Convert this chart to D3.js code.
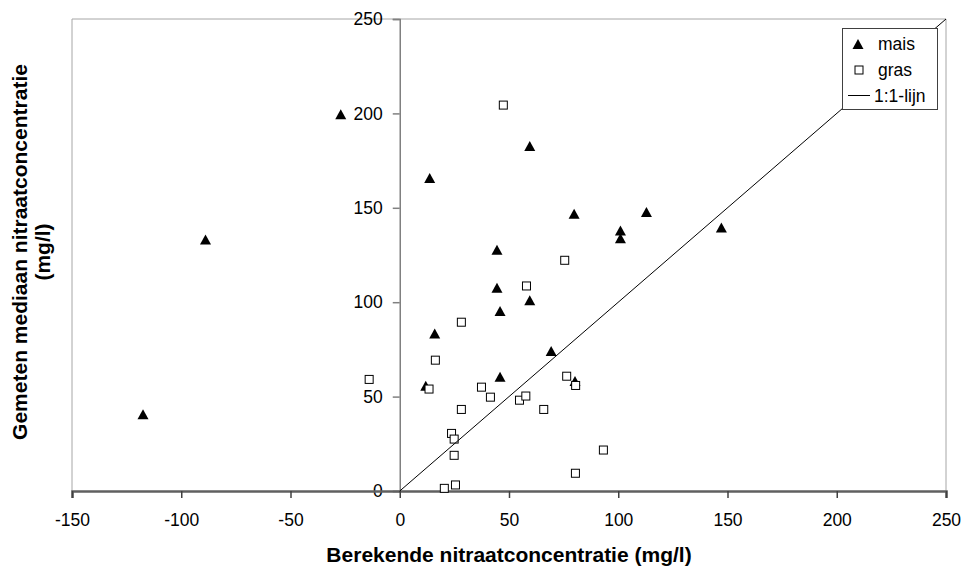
<!DOCTYPE html>
<html>
<head>
<meta charset="utf-8">
<script src="https://cdn.jsdelivr.net/npm/d3@7"></script>
<style>
    body { margin: 0; background: #fff; }
    svg { font-family: "Liberation Sans", Arial, sans-serif; }
    .tick text { font-size: 17.5px; fill: #000; }
    .title { font-size: 21px; font-weight: bold; }
    .legend text { font-size: 17.5px; }
</style>
</head>
<body>
<svg width="963" height="568"></svg>
<script>
// values
const maisX = [-117.5, -88.9, -27, 13.7, 59.5, 79.8, 101, 101, 112.9, 147.2, 44.5, 44.5, 59.5, 45.9, 16, 69.3, 11.9, 45.9, 80.2];
const maisY = [40.6, 133.2, 199.5, 165.8, 182.7, 146.9, 138, 133.9, 147.8, 139.5, 127.8, 107.6, 101, 95.4, 83.4, 74.2, 55.7, 60.5, 58.2];
const grasX = [47.4, 75.5, 58, 28.2, 16.3, -14, 13.4, 37.4, 41.5, 28.2, 54.8, 57.7, 65.9, 76.4, 80.5, 23.7, 24.9, 24.9, 20.4, 25.5, 93.2, 80.4];
const grasY = [204.4, 122.2, 108.6, 89.4, 69.3, 59.1, 54, 55, 49.7, 43.2, 48.1, 50.3, 43.2, 60.8, 55.9, 30.5, 27.5, 18.9, 1.4, 3.2, 21.7, 9.4];
const lineXY = [0, 250];
const xTicks = [-150, -100, -50, 0, 50, 100, 150, 200, 250];
const yTicks = [0, 50, 100, 150, 200, 250];
const legendLabels = ['mais', 'gras', '1:1-lijn'];

const svg = d3.select('svg');
const plotLeft = 72, plotRight = 946, plotTop = 19, plotBottom = 491;

const xScale = d3.scaleLinear().domain([-150, 250]).range([plotLeft, plotRight]);
const yScale = d3.scaleLinear().domain([0, 250]).range([plotBottom, plotTop]);

// plot area frame
svg.append('path')
    .attr('d', `M${plotLeft},${plotBottom}V${plotTop}H${plotRight}V${plotBottom}`)
    .attr('fill', 'none')
    .attr('stroke', '#a6a6a6')
    .attr('stroke-width', 1);

// y axis sits at x = 0
const yAxis = svg.append('g')
    .attr('transform', `translate(${xScale(0)},0)`)
    .call(d3.axisLeft(yScale).tickValues(yTicks).tickFormat(d => String(d)).tickSize(7).tickPadding(10));
yAxis.select('.domain').attr('stroke', '#808080').attr('stroke-width', 1.5);
yAxis.selectAll('.tick line').attr('stroke', '#808080').attr('stroke-width', 1.5);

// x axis sits at y = 0, plain hyphen for negatives
const xAxis = svg.append('g')
    .attr('transform', `translate(0,${yScale(0)})`)
    .call(d3.axisBottom(xScale).tickValues(xTicks).tickFormat(d => String(d)).tickSize(7).tickPadding(16));
xAxis.select('.domain').attr('stroke', '#606060').attr('stroke-width', 2.5);
xAxis.selectAll('.tick line').attr('stroke', '#404040').attr('stroke-width', 1.5);

const triangle = 'M0,-5L5.5,5L-5.5,5Z';

svg.append('g').selectAll('path')
    .data(maisX.map((x, i) => ({x: x, y: maisY[i]})))
    .enter()
    .append('path')
    .attr('d', triangle)
    .attr('transform', d => `translate(${xScale(d.x)},${yScale(d.y)})`)
    .attr('fill', '#000');

svg.append('g').selectAll('rect')
    .data(grasX.map((x, i) => ({x: x, y: grasY[i]})))
    .enter()
    .append('rect')
    .attr('x', d => xScale(d.x) - 4)
    .attr('y', d => yScale(d.y) - 4)
    .attr('width', 8)
    .attr('height', 8)
    .attr('fill', '#fff')
    .attr('stroke', '#000')
    .attr('stroke-width', 1);

// 1:1 line
svg.append('line')
    .attr('x1', xScale(lineXY[0])).attr('y1', yScale(lineXY[0]))
    .attr('x2', xScale(lineXY[1])).attr('y2', yScale(lineXY[1]))
    .attr('stroke', '#000')
    .attr('stroke-width', 1);

// axis titles
svg.append('text')
    .attr('class', 'title')
    .attr('x', (plotLeft + plotRight) / 2)
    .attr('y', 562)
    .attr('text-anchor', 'middle')
    .text('Berekende nitraatconcentratie (mg/l)');

const yTitle = svg.append('text')
    .attr('class', 'title')
    .attr('transform', 'translate(27,252) rotate(-90)')
    .attr('text-anchor', 'middle');
yTitle.append('tspan').attr('x', 0).attr('y', 0).text('Gemeten mediaan nitraatconcentratie');
yTitle.append('tspan').attr('x', 0).attr('y', 23).text('(mg/l)');

// legend
const legend = svg.append('g').attr('class', 'legend');
legend.append('rect')
    .attr('x', 842.5).attr('y', 28.5)
    .attr('width', 95).attr('height', 81)
    .attr('fill', '#fff')
    .attr('stroke', '#404040')
    .attr('stroke-width', 1);
legend.append('path')
    .attr('d', triangle)
    .attr('transform', 'translate(858,44)');
legend.append('rect')
    .attr('x', 855).attr('y', 66)
    .attr('width', 8).attr('height', 8)
    .attr('fill', '#fff').attr('stroke', '#000');
legend.append('line')
    .attr('x1', 848).attr('x2', 870)
    .attr('y1', 95.5).attr('y2', 95.5)
    .attr('stroke', '#000');
legend.selectAll('text')
    .data(legendLabels)
    .enter()
    .append('text')
    .attr('x', (d, i) => i === 2 ? 874 : 878)
    .attr('y', (d, i) => 44 + i * 26 + 6)
    .text(d => d);
</script>
</body>
</html>
